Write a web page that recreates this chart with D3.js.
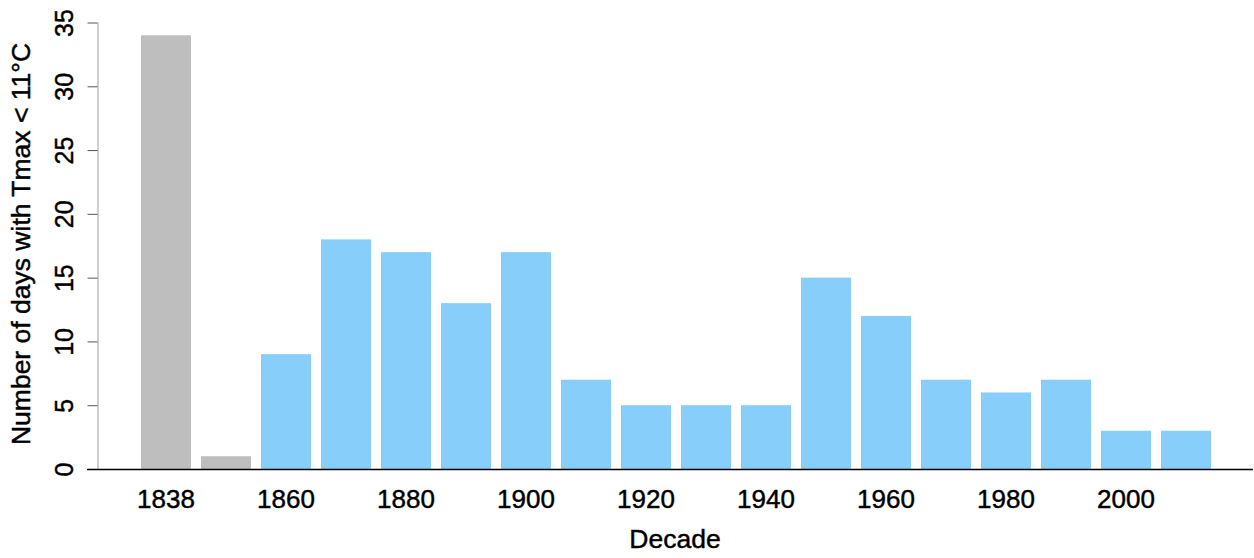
<!DOCTYPE html>
<html>
<head>
<meta charset="utf-8">
<script src="https://cdn.jsdelivr.net/npm/d3@7"></script>
<style>
  html, body { margin: 0; padding: 0; background: #fff; }
  svg { display: block; font-family: "Liberation Sans", Arial, sans-serif; }
  svg text { stroke: #000; stroke-width: 0.45px; }
</style>
</head>
<body>
<svg id="chart" width="1254" height="558"></svg>
<script>
// Decades (1838 is a partial early period, 1850 a sparse one)
const decades = ["1838","1850","1860","1870","1880","1890","1900","1910","1920",
                 "1930","1940","1950","1960","1970","1980","1990","2000","2010"];
const days = [34, 1, 9, 18, 17, 13, 17, 7, 5, 5, 5, 15, 12, 7, 6, 7, 3, 3];
const barColors = ["#bebebe","#bebebe","#87cefa","#87cefa","#87cefa","#87cefa",
                   "#87cefa","#87cefa","#87cefa","#87cefa","#87cefa","#87cefa",
                   "#87cefa","#87cefa","#87cefa","#87cefa","#87cefa","#87cefa"];
const xTickLabels = ["1838","1860","1880","1900","1920","1940","1960","1980","2000"];
const yTicks = [0, 5, 10, 15, 20, 25, 30, 35];

const svg = d3.select("#chart");

const x = d3.scaleBand()
  .domain(decades)
  .range([136, 1216])
  .paddingInner(1 / 6)
  .paddingOuter(1 / 12);

const y = d3.scaleLinear()
  .domain([0, 35])
  .range([469, 22.5]);

// bars
svg.append("g")
  .selectAll("rect")
  .data(decades)
  .join("rect")
  .attr("x", d => x(d))
  .attr("width", x.bandwidth())
  .attr("y", (d, i) => y(days[i]))
  .attr("height", (d, i) => y(0) - y(days[i]))
  .attr("fill", (d, i) => barColors[i]);

// y axis
const yAxis = svg.append("g")
  .attr("transform", "translate(97.5,0)")
  .call(d3.axisLeft(y).tickValues(yTicks).tickSize(10));
yAxis.select(".domain").attr("stroke", "#b4b4b4").attr("stroke-width", 1.3)
  .attr("d", `M0.5,${y(0)}V${y(35)}`);
yAxis.selectAll(".tick line").attr("stroke", "#555");
yAxis.selectAll(".tick text")
  .attr("font-size", 25)
  .attr("fill", "#000")
  .attr("text-anchor", "middle")
  .attr("dy", 0)
  .attr("transform", "rotate(-90)")
  .attr("x", 0)
  .attr("y", -25);

// baseline
svg.append("line")
  .attr("x1", 87).attr("x2", 1253)
  .attr("y1", y(0) + 0.5).attr("y2", y(0) + 0.5)
  .attr("stroke", "#000").attr("stroke-width", 1.5);

// x axis labels
const xAxis = svg.append("g")
  .attr("transform", `translate(0,${y(0)})`)
  .call(d3.axisBottom(x).tickValues(xTickLabels).tickSize(0));
xAxis.select(".domain").remove();
xAxis.selectAll(".tick text")
  .attr("font-size", 26)
  .attr("fill", "#000")
  .attr("dy", 0)
  .attr("y", 39);

// axis titles
svg.append("text")
  .attr("x", 675).attr("y", 548)
  .attr("text-anchor", "middle")
  .attr("font-size", 26.5)
  .text("Decade");

svg.append("text")
  .attr("transform", "translate(30,244) rotate(-90)")
  .attr("text-anchor", "middle")
  .attr("font-size", 26.5)
  .text("Number of days with Tmax < 11°C");
</script>
</body>
</html>
